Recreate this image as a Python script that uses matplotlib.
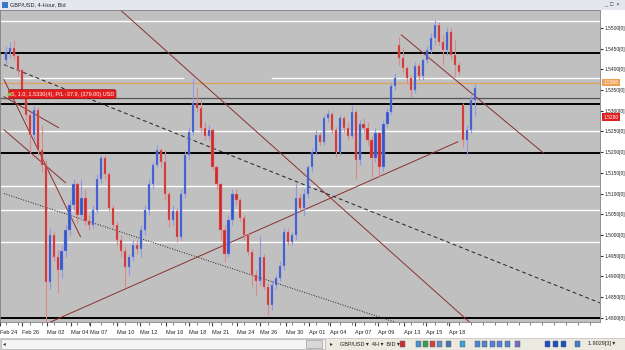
import matplotlib
matplotlib.use("Agg")
import matplotlib.pyplot as plt
from matplotlib.patches import Rectangle

plt.rcParams['font.family'] = ['Liberation Sans', 'DejaVu Sans']

# 4-hour GBP/USD candles
opens = [1.5423, 1.5442, 1.5452, 1.5433, 1.5399, 1.5339, 1.5290, 1.5242, 1.5302, 1.5206,
         1.5170, 1.4886, 1.5001, 1.4946, 1.4916, 1.4961, 1.5013, 1.5073, 1.5122, 1.5049,
         1.5090, 1.5033, 1.5025, 1.5061, 1.5134, 1.5187, 1.5146, 1.5066, 1.5025, 1.4989,
         1.4961, 1.4922, 1.4946, 1.4977, 1.4965, 1.5013, 1.5061, 1.5122, 1.5170, 1.5206,
         1.5177, 1.5098, 1.5037, 1.5057, 1.4996, 1.5098, 1.5194, 1.5249, 1.5319, 1.5307,
         1.5259, 1.5240, 1.5254, 1.5165, 1.5122, 1.5013, 1.4953, 1.5037, 1.5100, 1.5085,
         1.5042, 1.4999, 1.4958, 1.4904, 1.4888, 1.4946, 1.4875, 1.4832, 1.4880, 1.4897,
         1.4926, 1.5008, 1.4984, 1.4999, 1.5090, 1.5066, 1.5098, 1.5163, 1.5201, 1.5242,
         1.5225, 1.5283, 1.5293, 1.5254, 1.5201, 1.5283, 1.5259, 1.5240, 1.5298, 1.5182,
         1.5269, 1.5259, 1.5230, 1.5187, 1.5245, 1.5163, 1.5269, 1.5298, 1.5360, 1.5459,
         1.5428, 1.5404, 1.5380, 1.5351, 1.5408, 1.5384, 1.5423, 1.5447, 1.5476, 1.5507,
         1.5466, 1.5447, 1.5490, 1.5435, 1.5411, 1.5314, 1.5230, 1.5254, 1.5326]
highs = [1.5457, 1.5466, 1.5471, 1.5437, 1.5404, 1.5343, 1.5298, 1.5314, 1.5310, 1.5266,
         1.5182, 1.5018, 1.5008, 1.4965, 1.4977, 1.5025, 1.5085, 1.5134, 1.5129, 1.5134,
         1.5110, 1.5049, 1.5073, 1.5146, 1.5194, 1.5194, 1.5153, 1.5073, 1.5033, 1.5001,
         1.4970, 1.4953, 1.4989, 1.4989, 1.5025, 1.5073, 1.5134, 1.5177, 1.5218, 1.5211,
         1.5206, 1.5105, 1.5073, 1.5066, 1.5110, 1.5206, 1.5261, 1.5380, 1.5358, 1.5326,
         1.5273, 1.5266, 1.5259, 1.5170, 1.5126, 1.5023, 1.5049, 1.5110, 1.5110, 1.5090,
         1.5049, 1.5006, 1.4965, 1.4916, 1.5001, 1.4953, 1.4883, 1.4892, 1.4904, 1.4937,
         1.5018, 1.5018, 1.5008, 1.5126, 1.5098, 1.5110, 1.5170, 1.5211, 1.5254, 1.5249,
         1.5290, 1.5302, 1.5298, 1.5261, 1.5290, 1.5288, 1.5273, 1.5314, 1.5302, 1.5278,
         1.5283, 1.5273, 1.5240, 1.5259, 1.5249, 1.5278, 1.5307, 1.5370, 1.5392, 1.5478,
         1.5452, 1.5408, 1.5387, 1.5418, 1.5416, 1.5428, 1.5457, 1.5488, 1.5519, 1.5514,
         1.5483, 1.5502, 1.5500, 1.5471, 1.5418, 1.5319, 1.5266, 1.5339, 1.5365]
lows = [1.5408, 1.5428, 1.5423, 1.5387, 1.5326, 1.5278, 1.5199, 1.5230, 1.5194, 1.5153,
        1.4789, 1.4869, 1.4937, 1.4861, 1.4897, 1.4946, 1.5001, 1.5061, 1.5030, 1.5037,
        1.5023, 1.5013, 1.5018, 1.5054, 1.5126, 1.5134, 1.5057, 1.5018, 1.4977, 1.4946,
        1.4875, 1.4904, 1.4937, 1.4953, 1.4946, 1.5001, 1.5049, 1.5110, 1.5163, 1.5163,
        1.5085, 1.5020, 1.5025, 1.4982, 1.4989, 1.5090, 1.5182, 1.5242, 1.5298, 1.5249,
        1.5230, 1.5230, 1.5158, 1.5110, 1.4989, 1.4934, 1.4946, 1.5025, 1.5073, 1.5033,
        1.4989, 1.4951, 1.4875, 1.4856, 1.4880, 1.4869, 1.4808, 1.4820, 1.4869, 1.4888,
        1.4916, 1.4977, 1.4975, 1.4989, 1.5057, 1.5045, 1.5090, 1.5153, 1.5192, 1.5216,
        1.5218, 1.5273, 1.5245, 1.5189, 1.5194, 1.5249, 1.5230, 1.5235, 1.5134, 1.5170,
        1.5249, 1.5218, 1.5141, 1.5177, 1.5141, 1.5153, 1.5261, 1.5290, 1.5351, 1.5411,
        1.5394, 1.5367, 1.5334, 1.5343, 1.5375, 1.5375, 1.5416, 1.5440, 1.5459, 1.5459,
        1.5411, 1.5435, 1.5423, 1.5382, 1.5387, 1.5213, 1.5194, 1.5247, 1.5286]
closes = [1.5442, 1.5452, 1.5433, 1.5399, 1.5339, 1.5290, 1.5242, 1.5302, 1.5206, 1.5170,
          1.4886, 1.5001, 1.4946, 1.4916, 1.4961, 1.5013, 1.5073, 1.5122, 1.5049, 1.5090,
          1.5033, 1.5025, 1.5061, 1.5134, 1.5187, 1.5146, 1.5066, 1.5025, 1.4989, 1.4961,
          1.4922, 1.4946, 1.4977, 1.4965, 1.5013, 1.5061, 1.5122, 1.5170, 1.5206, 1.5177,
          1.5098, 1.5037, 1.5057, 1.4996, 1.5098, 1.5194, 1.5249, 1.5319, 1.5307, 1.5259,
          1.5240, 1.5254, 1.5165, 1.5122, 1.5013, 1.4953, 1.5037, 1.5100, 1.5085, 1.5042,
          1.4999, 1.4958, 1.4904, 1.4888, 1.4946, 1.4875, 1.4832, 1.4880, 1.4897, 1.4926,
          1.5008, 1.4984, 1.4999, 1.5090, 1.5066, 1.5098, 1.5163, 1.5201, 1.5242, 1.5225,
          1.5283, 1.5293, 1.5254, 1.5201, 1.5283, 1.5259, 1.5240, 1.5298, 1.5182, 1.5269,
          1.5259, 1.5230, 1.5187, 1.5245, 1.5163, 1.5269, 1.5298, 1.5360, 1.5380, 1.5428,
          1.5404, 1.5380, 1.5351, 1.5408, 1.5384, 1.5423, 1.5447, 1.5476, 1.5507, 1.5466,
          1.5447, 1.5490, 1.5435, 1.5411, 1.5394, 1.5230, 1.5254, 1.5326, 1.5355]

date_labels = ["Feb 24", "Feb 26", "Mar 02", "Mar 04", "Mar 07", "Mar 10", "Mar 12",
               "Mar 16", "Mar 18", "Mar 21", "Mar 24", "Mar 26", "Mar 30", "Apr 01",
               "Apr 04", "Apr 07", "Apr 09", "Apr 13", "Apr 15", "Apr 18"]
date_pos = [-1.5, 4, 10.25, 16.25, 21.25, 28, 33.75, 40.25, 46, 51.75, 58.25, 64,
            70.5, 76.25, 81.5, 87.75, 93.75, 100.25, 105.75, 111.5]

price_ticks = [1.4800, 1.4850, 1.4900, 1.4950, 1.5000, 1.5050, 1.5100, 1.5150,
               1.5200, 1.5250, 1.5300, 1.5350, 1.5400, 1.5450, 1.5500]

white_levels = [1.5517, 1.5251, 1.5119, 1.5060, 1.4984]
black_levels = [1.5440, 1.5316, 1.5198, 1.4800]
entry_level = 1.5330
ask_level = 1.5368
bid_level = 1.5284

# drawn trend lines: (x0, price0, x1, price1)
brown_lines = [(24.5, 1.5580, 118.25, 1.4776),
               (10.75, 1.4788, 113.75, 1.5225),
               (99.5, 1.5483, 135.25, 1.5198),
               (-0.5, 1.5334, 13.25, 1.5259),
               (-0.5, 1.5254, 15.0, 1.5126),
               (-0.5, 1.5375, 18.75, 1.4996)]
dashed_line = (-0.5, 1.5411, 149.5, 1.4836)
dotted_line = (-0.5, 1.5100, 100.0, 1.4783)

fig = plt.figure(figsize=(6.25, 3.5), dpi=100)
fig.patch.set_facecolor('white')
ax = fig.add_axes([0, 28 / 350, 600 / 625, 312 / 350])
ax.set_facecolor('#c0c0c0')
ax.set_xlim(-0.5, 149.5)
ax.set_ylim(1.4790, 1.5543)

# horizontal levels
for lv in white_levels:
    ax.axhline(lv, color='white', lw=1.0, zorder=1)
ax.plot([-0.5, 44.5], [1.5380, 1.5380], color='white', lw=1.0, zorder=1)
ax.plot([67, 149.5], [1.5380, 1.5380], color='white', lw=1.0, zorder=1)
ax.axhline(ask_level, color='#e0a060', lw=0.9, zorder=1)
ax.axhline(entry_level, color='#555555', lw=0.9, zorder=1)
for lv in black_levels:
    ax.axhline(lv, color='black', lw=1.4, zorder=1)

# trend lines
for x0, p0, x1, p1 in brown_lines:
    ax.plot([x0, x1], [p0, p1], color='#8b3030', lw=0.7, zorder=2)
ax.plot(dashed_line[::2], dashed_line[1::2], color='#222222', lw=0.7,
        dashes=(4, 3), zorder=2)
ax.plot(dotted_line[::2], dotted_line[1::2], color='#222222', lw=0.7,
        dashes=(1, 1.6), zorder=2)

# candles
for i in range(len(closes)):
    o, h, l, c = opens[i], highs[i], lows[i], closes[i]
    if c >= o:
        body, wick = '#3454cc', '#8e9be0'
    else:
        body, wick = '#d42828', '#d88a8a'
    ax.vlines(i, l, h, color=wick, lw=0.8, zorder=3)
    ax.bar(i, max(abs(c - o), 0.0003), bottom=min(o, c), width=0.55,
           color=body, edgecolor=wick, linewidth=0.3, zorder=4)

# trade label
ax.text(1.2, 1.5340, "S, 1.0, 1.5330(4), P/L -37.9, (379.00) USD", fontsize=4,
        color='white', va='center', ha='left', zorder=6,
        bbox=dict(boxstyle='round,pad=0.35,rounding_size=0.3', fc='#e41e1e',
                  ec='#a01010', lw=0.5))
ax.plot(0.7, 1.5340, marker='o', ms=1.6, color='#8fbf40', zorder=7)

# price axis
ax.yaxis.tick_right()
ax.set_yticks(price_ticks)
ax.set_yticklabels([f"{p:.4f}[0]" for p in price_ticks])
ax.tick_params(axis='y', labelsize=3.5, length=2, pad=1, colors='#333333',
               labelcolor='#222222')
for lv, col, txt in [(ask_level, '#f0a050', '1.5368'), (bid_level, '#e02020', '1.5280')]:
    ax.text(1.006, lv, txt, transform=ax.get_yaxis_transform(), fontsize=3.5,
            color='white', va='center', ha='left', zorder=8, clip_on=False,
            bbox=dict(boxstyle='square,pad=0.3', fc=col, ec='none'))

# time axis
ax.set_xticks(date_pos)
ax.set_xticklabels(date_labels)
ax.xaxis.set_minor_locator(matplotlib.ticker.MultipleLocator(3))
ax.tick_params(axis='x', labelsize=4, length=3, pad=3, colors='#444444',
               labelcolor='#222222')
ax.tick_params(axis='x', which='minor', length=2, colors='#666666')
for lbl in ax.get_xticklabels():
    lbl.set_ha('left')
for s in ax.spines.values():
    s.set_color('#808080')
    s.set_linewidth(0.6)

# window title bar
fig.patches.append(Rectangle((0, 340 / 350), 1, 10 / 350, transform=fig.transFigure,
                             fc='#e4e8ee', ec='none', zorder=0))
fig.patches.append(Rectangle((2 / 625, 342 / 350), 6 / 625, 6 / 350,
                             transform=fig.transFigure, fc='#3a78c8', ec='none'))
fig.text(10 / 625, 345 / 350, "GBP/USD, 4-Hour, Bid", fontsize=4, va='center',
         color='#222222')
fig.text(604 / 625, 345 / 350, "_  \u25a1  \u00d7", fontsize=4, va='center',
         color='#333333')

# bottom scrollbar and toolbar
fig.patches.append(Rectangle((0, 0), 1, 12 / 350, transform=fig.transFigure,
                             fc='#ece9e0', ec='#b0b0b0', lw=0.4))
fig.patches.append(Rectangle((1 / 625, 1 / 350), 324 / 625, 10 / 350,
                             transform=fig.transFigure, fc='#f4f4f4', ec='#a0a0a0',
                             lw=0.4))
fig.patches.append(Rectangle((306 / 625, 2 / 350), 16 / 625, 8 / 350,
                             transform=fig.transFigure, fc='#d8d8d8', ec='#909090',
                             lw=0.4))
fig.text(3 / 625, 6 / 350, "\u25c2", fontsize=4, va='center', color='#333333')
fig.text(330 / 625, 6 / 350, "\u25b8", fontsize=4, va='center', color='#333333')
fig.text(340 / 625, 6 / 350, "GBP/USD \u25be  4H \u25be  BID \u25be", fontsize=4,
         va='center', color='#222222')
icon_x = [400, 416, 423, 430, 437, 446, 460, 475, 482, 490, 497, 505, 515, 545, 553, 561, 575]
icon_c = ['#d03030', '#4a8fd0', '#3aa040', '#d84040', '#6a8ac8', '#5070b0', '#40a0d0',
          '#5080d0', '#5080d0', '#5080d0', '#5080d0', '#5080d0', '#7070c0', '#2050c0',
          '#2050c0', '#2050c0', '#4080c0']
for xi, ci in zip(icon_x, icon_c):
    fig.patches.append(Rectangle((xi / 625, 3 / 350), 5 / 625, 6 / 350,
                                 transform=fig.transFigure, fc=ci, ec='#506070',
                                 lw=0.3))
fig.text(588 / 625, 6 / 350, "1.9029[3] \u25be", fontsize=4, va='center',
         color='#222222')

fig.savefig("out.png", dpi=100)
